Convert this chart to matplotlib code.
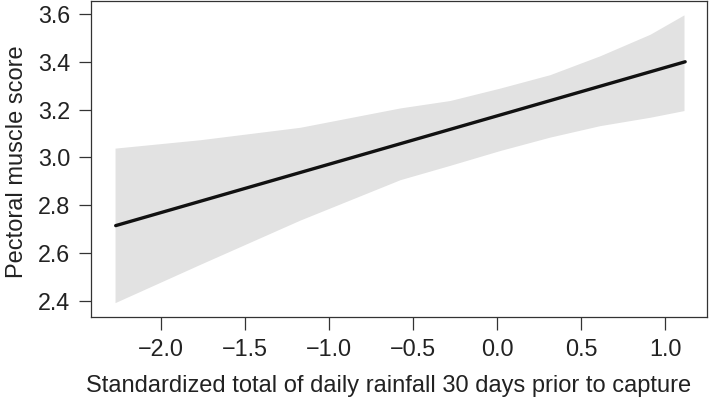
import matplotlib
matplotlib.use("Agg")
import matplotlib.pyplot as plt
import numpy as np

plt.rcParams['font.family'] = ['Liberation Sans', 'DejaVu Sans']

# Fitted line endpoints
line_x = [-2.27, 1.12]
line_y = [2.715, 3.40]

# Confidence band
band_x = [-2.274, -1.768, -1.173, -0.577, -0.280, 0.018, 0.315, 0.613, 0.911, 1.113]
band_upper = [3.039, 3.074, 3.126, 3.207, 3.238, 3.290, 3.346, 3.425, 3.515, 3.596]
band_lower = [2.393, 2.553, 2.738, 2.907, 2.967, 3.029, 3.085, 3.133, 3.168, 3.196]

xticks = [-2.0, -1.5, -1.0, -0.5, 0.0, 0.5, 1.0]
yticks = [2.4, 2.6, 2.8, 3.0, 3.2, 3.4, 3.6]

fig = plt.figure(figsize=(7.09, 4.0), dpi=100)
ax = fig.add_axes([91/709, 1 - 317/400, (707 - 91)/709, (317 - 1)/400])

ax.fill_between(band_x, band_lower, band_upper, color='#e2e2e2', linewidth=0)
ax.plot(line_x, line_y, color='#111111', linewidth=2.4, solid_capstyle='round')

ax.set_xlim(-2.417, 1.25)
ax.set_ylim(2.333, 3.654)
ax.set_xticks(xticks)
ax.set_xticklabels(['\u2212%.1f' % abs(v) if v < 0 else '%.1f' % v for v in xticks])
ax.set_yticks(yticks)
ax.set_yticklabels(['%.1f' % v for v in yticks])

for s in ax.spines.values():
    s.set_color('#333333')
    s.set_linewidth(0.9)
ax.tick_params(axis='both', direction='out', length=9, width=0.9, color='#333333',
               labelsize=16.8, labelcolor='#222222', pad=6)

ax.set_xlabel('Standardized total of daily rainfall 30 days prior to capture',
              fontsize=17.0, color='#222222', va='baseline')
ax.xaxis.set_label_coords((388.5 - 91) / 616, (317 - 392) / 316)
ax.set_ylabel('Pectoral muscle score', fontsize=17.0, color='#222222')
ax.yaxis.label.set_va('baseline')
ax.yaxis.label.set_rotation_mode('anchor')
ax.yaxis.set_label_coords((23 - 91) / 616, (317 - 162) / 316)

fig.savefig('out.png', dpi=100)
